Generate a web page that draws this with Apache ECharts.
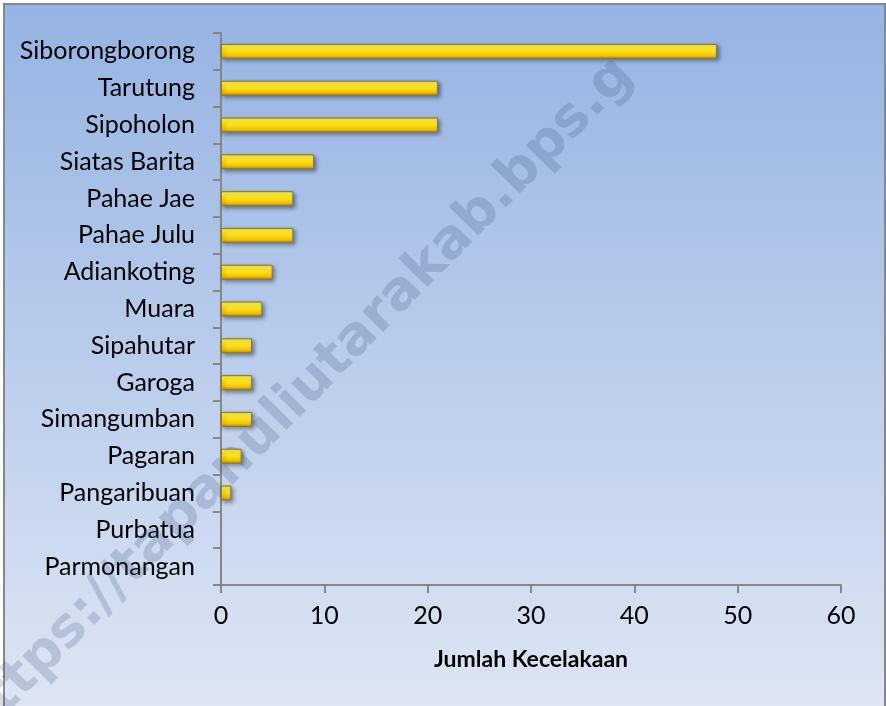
<!DOCTYPE html>
<html>
<head>
<meta charset="utf-8">
<script src="https://cdn.jsdelivr.net/npm/echarts@6/dist/echarts.min.js"></script>
<style>
  html, body { margin: 0; padding: 0; background: #fff; }
  #chart { width: 886px; height: 706px; }
</style>
</head>
<body>
<div id="chart"></div>
<script>
var kecamatan = ['Siborongborong', 'Tarutung', 'Sipoholon', 'Siatas Barita', 'Pahae Jae', 'Pahae Julu',
  'Adiankoting', 'Muara', 'Sipahutar', 'Garoga', 'Simangumban', 'Pagaran', 'Pangaribuan', 'Purbatua', 'Parmonangan'];
var jumlah = [48, 21, 21, 9, 7, 7, 5, 4, 3, 3, 3, 2, 1, 0, 0];
var xTicks = [0, 10, 20, 30, 40, 50, 60];
var namaSumbuX = 'Jumlah Kecelakaan';
var watermark = 'https://tapanuliutarakab.bps.g';

var myChart = echarts.init(document.getElementById('chart'));
var font = 'Lato, "Open Sans", sans-serif';

// bar nol tidak digambar garisnya
var dataBar = jumlah.map(function (v) {
  if (v === 0) {
    return { value: v, itemStyle: { borderWidth: 0, shadowColor: 'transparent', opacity: 0 } };
  }
  return v;
});

var option = {
  animation: false,
  graphic: [
    {
      type: 'rect', z: -10, silent: true,
      shape: { x: 4, y: 4, width: 881, height: 710 },
      style: {
        fill: new echarts.graphic.LinearGradient(0, 0, 0, 1, [
          { offset: 0, color: '#95b3e3' },
          { offset: 1, color: '#dfe6f4' }
        ]),
        stroke: '#878787', lineWidth: 2
      }
    },
    {
      // watermark
      type: 'text', z: 1, silent: true,
      x: -33, y: 734, rotation: 45.4 * Math.PI / 180,
      style: {
        text: watermark,
        font: 'bold 54px "DejaVu Sans"',
        fill: 'rgba(60,80,125,0.22)',
        textAlign: 'left', textVerticalAlign: 'middle'
      }
    }
  ],
  grid: { left: 221, right: 45, top: 33, bottom: 121, containLabel: false },
  xAxis: {
    type: 'value',
    min: xTicks[0], max: xTicks[xTicks.length - 1], interval: 10,
    name: namaSumbuX, nameLocation: 'middle', nameGap: 63,
    nameTextStyle: { fontFamily: font, fontWeight: 'bold', fontSize: 23, color: '#000' },
    axisLine: { show: true, lineStyle: { color: '#878787', width: 2 } },
    axisTick: { show: true, length: 8, lineStyle: { color: '#878787', width: 2 } },
    axisLabel: { fontFamily: font, fontSize: 25, color: '#000', margin: 18 },
    splitLine: { show: false }
  },
  yAxis: {
    type: 'category', inverse: true,
    data: kecamatan,
    axisLine: { show: true, lineStyle: { color: '#878787', width: 2 } },
    axisTick: { show: true, length: 8, alignWithLabel: false, lineStyle: { color: '#878787', width: 2 } },
    axisLabel: { fontFamily: font, fontSize: 25, color: '#000', margin: 26 },
    splitLine: { show: false }
  },
  series: [
    {
      name: namaSumbuX,
      type: 'bar',
      data: dataBar,
      barWidth: 15,
      z: 2,
      itemStyle: {
        color: new echarts.graphic.LinearGradient(0, 0, 0, 1, [
          { offset: 0, color: '#e6c82a' },
          { offset: 0.15, color: '#fff24e' },
          { offset: 0.5, color: '#ffe010' },
          { offset: 0.8, color: '#f0c200' },
          { offset: 1, color: '#b08400' }
        ]),
        borderColor: '#8a7838',
        borderWidth: 1,
        shadowColor: 'rgba(0,0,0,0.4)',
        shadowBlur: 4,
        shadowOffsetX: 2,
        shadowOffsetY: 2
      }
    }
  ]
};
myChart.setOption(option);
</script>
</body>
</html>
